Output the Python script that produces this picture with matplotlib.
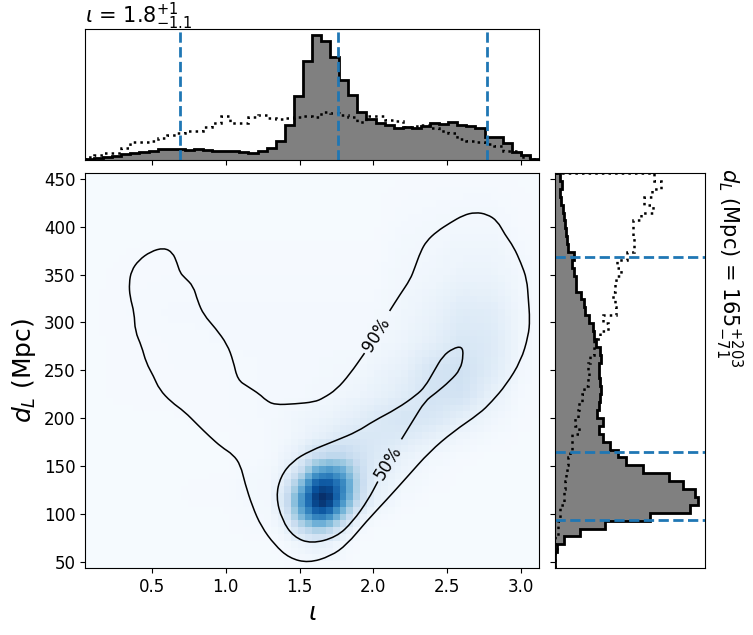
import numpy as np
import matplotlib
matplotlib.use("Agg")
import matplotlib.pyplot as plt
from matplotlib.path import Path
from matplotlib.patches import PathPatch

# limits of the main panel
iota_lim = (0.046, 3.122)
dl_lim = (43.7, 456.0)

# histogram of iota, 50 bins, left to right (arbitrary height units)
iota_post = [2, 5, 8, 12, 18, 21, 25, 28, 32, 34, 34, 31, 33, 30, 27, 27, 27, 24, 21, 27,
             36, 58, 106, 193, 297, 374, 358, 308, 240, 195, 145, 123, 111, 105, 97, 100,
             97, 101, 111, 109, 114, 106, 103, 97, 70, 70, 52, 25, 14, 4]
iota_prior = [8, 16, 22, 20, 37, 53, 53, 56, 66, 76, 82, 86, 88, 98, 112, 132, 110, 111, 128, 134,
              126, 124, 126, 128, 132, 128, 143, 140, 136, 128, 113, 131, 131, 120, 116, 98,
              103, 104, 96, 86, 80, 63, 56, 55, 48, 43, 28, 26, 10, 4]
iota_quantiles = [0.69, 1.76, 2.77]

# histogram of d_L, 50 bins, listed from the top of the panel downwards
dl_post = [16, 22, 18, 20, 26, 30, 32, 34, 37, 42, 58, 54, 60, 66, 66, 80, 88, 92, 105, 116,
           120, 125, 136, 140, 134, 133, 137, 141, 138, 133, 127, 146, 133, 145, 167, 192,
           215, 266, 344, 385, 422, 431, 406, 286, 153, 76, 28, 8, 2, 1]
dl_prior = [300, 320, 292, 270, 295, 260, 235, 235, 238, 238, 218, 188, 200, 185, 182, 175, 182,
            185, 145, 162, 138, 118, 120, 108, 100, 103, 100, 88, 82, 75, 70, 63, 73, 52,
            52, 48, 40, 38, 35, 32, 28, 28, 18, 16, 12, 10, 3, 8, 3, 0]
dl_quantiles = [94, 165, 368]

# density of the main panel, in percent of the peak, read at these knots
grid_iota = [0.05, 0.6, 1.0, 1.3, 1.4, 1.5, 1.6, 1.65, 1.7, 1.8, 1.9, 2.0, 2.2, 2.4, 2.6, 2.8, 3.0, 3.14]
grid_dl = [44, 70, 85, 100, 115, 130, 145, 160, 180, 200, 225, 250, 280, 310, 350, 400, 456]
density = [
    [1, 1, 1, 1, 1, 1, 1, 1, 1, 1, 1, 1, 1, 1, 1, 1, 1, 1],
    [1, 1, 1, 1, 2, 5, 8, 8, 7, 3, 1, 1, 1, 1, 1, 1, 1, 1],
    [1, 1, 1, 2, 5, 22, 35, 35, 30, 12, 3, 1, 1, 1, 1, 1, 1, 1],
    [1, 1, 1, 2.5, 12, 45, 72, 75, 68, 38, 10, 3, 1, 1, 1, 1, 1, 1],
    [1, 1, 1.5, 3, 18, 55, 92, 100, 95, 60, 24, 8, 2, 1, 1, 1, 1, 1],
    [1, 1, 1.5, 3, 12, 40, 80, 86, 85, 65, 28, 10, 3, 1.5, 1, 1, 1, 1],
    [1, 1, 1, 3, 7, 20, 50, 56, 60, 50, 25, 12, 5, 2, 1, 1, 1, 1],
    [1, 1, 1, 2, 5, 10, 22, 25, 27, 27, 20, 14, 7, 3, 1.5, 1, 1, 1],
    [1, 1, 1, 2, 3, 5, 8, 9, 11, 14, 15, 15, 13, 8, 4, 2, 1, 1],
    [1, 1, 1.5, 2, 3, 4, 5, 5.5, 6, 8, 10, 13, 17, 15, 9, 4, 1.5, 1],
    [1, 1.5, 1.5, 2, 2, 2, 3, 3, 3, 4, 5, 7, 11, 18, 18, 8, 2, 1],
    [1, 1.5, 1.5, 2, 2, 2, 2, 2.5, 2.5, 3, 3, 5, 8, 17, 20, 12, 3, 1],
    [1, 1.5, 2, 2, 2, 2, 2, 2, 2, 2, 2, 3, 5, 9, 15, 13, 4, 1],
    [1, 2, 2, 2, 2, 2, 2, 2, 2, 2, 2, 2, 4, 7, 12, 11, 4, 1],
    [1, 1.5, 1.5, 1.5, 1.5, 1.5, 1.5, 1.5, 1.5, 1.5, 1.5, 1.5, 3, 4, 6, 6, 3, 1],
    [1, 1, 1, 1, 1, 1, 1, 1, 1, 1, 1, 1, 2, 2.5, 3, 3, 1.5, 1],
    [1, 1, 1, 1, 1, 1, 1, 1, 1, 1, 1, 1, 1, 1, 1, 1, 1, 1],
]

# the 90% contour, both ends stop at its label
c90_iota = [2.11, 2.18, 2.25, 2.28, 2.32, 2.36, 2.43, 2.52, 2.61, 2.69, 2.77, 2.84, 2.89, 2.95, 3.00,
            3.04, 3.05, 3.06, 3.05, 3.00, 2.90, 2.80, 2.72, 2.54, 2.38, 2.23, 2.09, 1.95, 1.82, 1.71,
            1.56, 1.43, 1.33, 1.24, 1.18, 1.13, 1.10, 1.05, 0.97, 0.89, 0.81, 0.72, 0.63, 0.55, 0.51,
            0.46, 0.43, 0.385, 0.38, 0.35, 0.345, 0.36, 0.41, 0.49, 0.58, 0.64, 0.67, 0.69, 0.72, 0.78,
            0.81, 0.85, 0.93, 1.01, 1.05, 1.08, 1.15, 1.23, 1.27, 1.33, 1.47, 1.60, 1.66, 1.75, 1.84, 1.94]
c90_dl = [312, 329, 345, 357, 374, 385, 395, 404, 412, 415, 413, 406, 392, 379, 362,
          345, 324, 303, 286, 260, 235, 217, 205, 186, 165, 139, 115, 92, 68, 56,
          49, 54, 68, 87, 108, 132, 151, 162, 170, 181, 193, 207, 217, 230, 244,
          258, 275, 291, 310, 327, 341, 354, 365, 374, 378, 373, 362, 352, 347, 338,
          322, 308, 294, 277, 260, 240, 233, 225, 219, 214, 215, 217, 221, 230, 246, 268]

# the 50% contour, same thing
c50_iota = [2.03, 1.965, 1.86, 1.75, 1.58, 1.46, 1.38, 1.34, 1.37, 1.45, 1.57, 1.75, 1.89, 2.00, 2.16,
            2.29, 2.35, 2.41, 2.47, 2.54, 2.60, 2.61, 2.59, 2.52, 2.42, 2.35, 2.27, 2.19]
c50_dl = [134, 115, 92, 76, 69, 76, 94, 118, 139, 155, 166, 177, 186, 197, 210,
          224, 233, 249, 265, 273, 275, 266, 251, 239, 226, 218, 198, 178]

W, H = 753, 635


def panel(x0, y0, x1, y1):
    # pixel box of the reference to figure fractions
    return fig.add_axes([x0 / W, 1 - y1 / H, (x1 - x0) / W, (y1 - y0) / H])


def smooth_line(ax, xs, ys):
    # quadratic curve segments, the read points act as control points
    pts = np.column_stack([xs, ys])
    mids = (pts[:-1] + pts[1:]) / 2
    verts = [pts[0], mids[0]]
    codes = [Path.MOVETO, Path.LINETO]
    for p, m in zip(pts[1:-1], mids[1:]):
        verts += [p, m]
        codes += [Path.CURVE3, Path.CURVE3]
    verts.append(pts[-1])
    codes.append(Path.LINETO)
    ax.add_patch(PathPatch(Path(verts, codes), fc="none", ec="k", lw=1.1))


fig = plt.figure(figsize=(W / 100, H / 100), dpi=100)
ax_main = panel(85, 173, 539, 568)
ax_top = panel(85, 29, 539, 160)
ax_right = panel(554.5, 173, 704.5, 568)

# density cells
cell_iota = np.linspace(iota_lim[0], iota_lim[1], 67)
cell_dl = np.linspace(dl_lim[0], dl_lim[1], 59)
mid_iota = (cell_iota[:-1] + cell_iota[1:]) / 2
mid_dl = (cell_dl[:-1] + cell_dl[1:]) / 2
dens = np.array(density, dtype=float)
by_row = np.array([np.interp(mid_iota, grid_iota, r) for r in dens])
cells = np.array([np.interp(mid_dl, grid_dl, c) for c in by_row.T]).T
ax_main.pcolormesh(cell_iota, cell_dl, cells, cmap="Blues", vmin=0, vmax=cells.max())

smooth_line(ax_main, c90_iota, c90_dl)
smooth_line(ax_main, c50_iota, c50_dl)
ax_main.text(2.02, 287, "90%", rotation=58, fontsize=12, ha="center", va="center", rotation_mode="anchor")
ax_main.text(2.10, 153, "50%", rotation=58, fontsize=12, ha="center", va="center", rotation_mode="anchor")

ax_main.set_xlim(iota_lim)
ax_main.set_ylim(dl_lim)
ax_main.set_yticks(np.arange(50, 451, 50))
ax_main.set_xticks([0.5, 1.0, 1.5, 2.0, 2.5, 3.0])
ax_main.tick_params(labelsize=12)
ax_main.set_xlabel(r"$\iota$", fontsize=18)
ax_main.set_ylabel(r"$d_L$ (Mpc)", fontsize=18)

# top histogram
edges_iota = np.linspace(iota_lim[0], iota_lim[1], len(iota_post) + 1)
ax_top.stairs(iota_post, edges_iota, fill=True, color="grey")
ax_top.stairs(iota_post, edges_iota, color="k", lw=2)
ax_top.stairs(iota_prior, edges_iota, color="k", lw=1.8, ls=":")
for q in iota_quantiles:
    ax_top.axvline(q, color="C0", ls="--", lw=2)
ax_top.set_xlim(iota_lim)
ax_top.set_ylim(0, max(iota_post) * 1.05)
ax_top.set_xticks([0.5, 1.0, 1.5, 2.0, 2.5, 3.0])
ax_top.set_xticklabels([])
ax_top.set_yticks([])
# y given so the title is not pushed up above the axes
ax_top.set_title(r"$\iota$ = $1.8^{+1}_{-1.1}$", loc="left", fontsize=15, y=1.0, pad=4.5)

# right histogram, the lists run top to bottom
edges_dl = np.linspace(dl_lim[0], dl_lim[1], len(dl_post) + 1)
ax_right.stairs(dl_post[::-1], edges_dl, orientation="horizontal", fill=True, color="grey")
ax_right.stairs(dl_post[::-1], edges_dl, orientation="horizontal", color="k", lw=2)
ax_right.stairs(dl_prior[::-1], edges_dl, orientation="horizontal", color="k", lw=1.8, ls=":")
for q in dl_quantiles:
    ax_right.axhline(q, color="C0", ls="--", lw=2)
ax_right.set_ylim(dl_lim)
ax_right.set_xlim(0, max(dl_post) * 1.045)
ax_right.set_yticks(np.arange(50, 451, 50))
ax_right.set_yticklabels([])
ax_right.set_xticks([])
ax_right.text(1.055, 1.012, r"$d_L$ (Mpc) = $165^{+203}_{-71}$", transform=ax_right.transAxes,
              rotation=270, fontsize=15, ha="left", va="top")

fig.savefig("out.png", dpi=100)
